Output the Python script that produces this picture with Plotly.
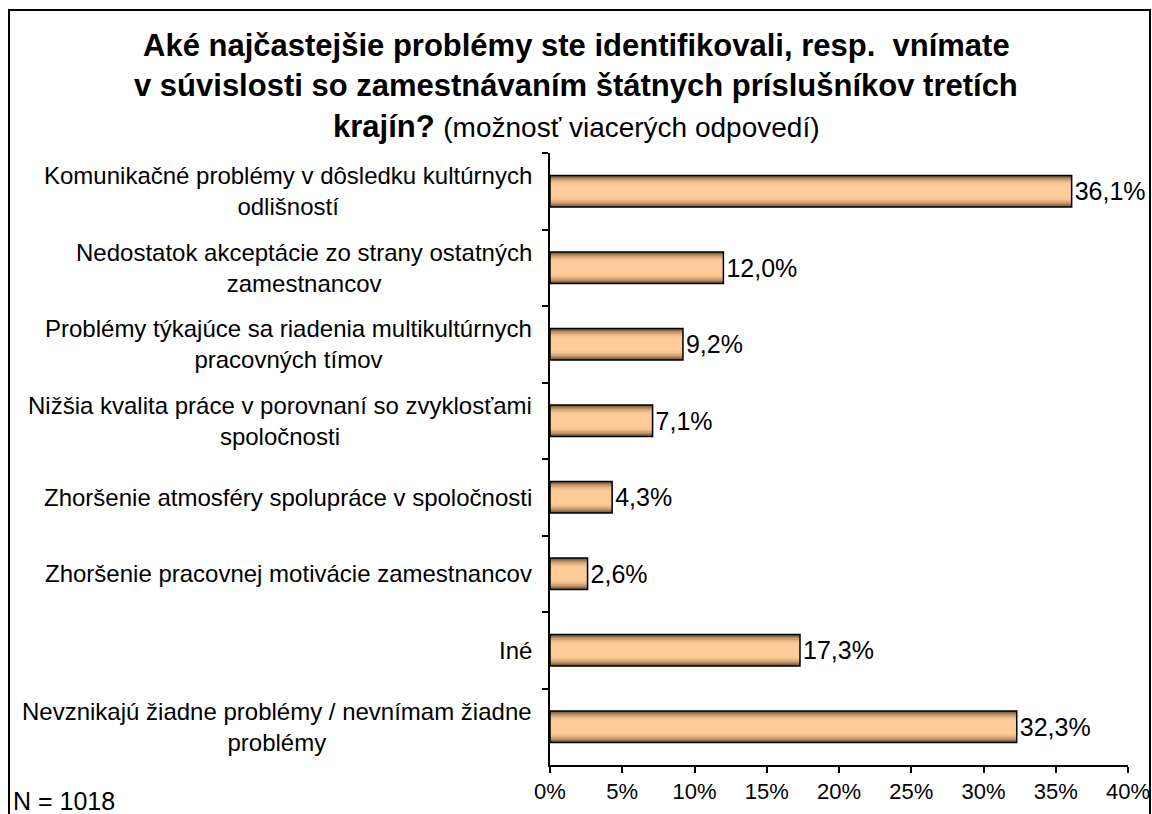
import plotly.graph_objects as go

categories = [
    "Komunikačné problémy v dôsledku kultúrnych<br>odlišností",
    "Nedostatok akceptácie zo strany ostatných<br>zamestnancov",
    "Problémy týkajúce sa riadenia multikultúrnych<br>pracovných tímov",
    "Nižšia kvalita práce v porovnaní so zvyklosťami<br>spoločnosti",
    "Zhoršenie atmosféry spolupráce v spoločnosti",
    "Zhoršenie pracovnej motivácie zamestnancov",
    "Iné",
    "Nevznikajú žiadne problémy / nevnímam žiadne<br>problémy",
]
values = [36.1, 12.0, 9.2, 7.1, 4.3, 2.6, 17.3, 32.3]
x_ticks = [0, 5, 10, 15, 20, 25, 30, 35, 40]
x_tick_labels = ["0%", "5%", "10%", "15%", "20%", "25%", "30%", "35%", "40%"]

FONT = "Liberation Sans, Arial, sans-serif"
W, H = 1152, 814
L, R, T, B = 550, 24, 153, 49
pw, ph = W - L - R, H - T - B

def px_x(p):
    return (p - L) / pw

def px_y(p):
    return (H - B - p) / ph

fig = go.Figure()

# gradient approximation: overlaid bars from dark (edges) to light (center)
bar_w = 0.41
layers = [
    (1.00, "#735539"),
    (0.93, "#92704f"),
    (0.85, "#b28a62"),
    (0.76, "#d0a475"),
    (0.66, "#e7b885"),
    (0.55, "#f7c692"),
    (0.42, "#ffcc99"),
]
for frac, col in layers:
    fig.add_trace(go.Bar(
        y=categories, x=values, orientation="h", width=bar_w * frac,
        marker=dict(color=col, line=dict(width=0)),
        hoverinfo="skip", showlegend=False,
    ))

labels = [f"{v:.1f}".replace(".", ",") + "%" for v in values]
fig.add_trace(go.Bar(
    y=categories, x=values, orientation="h", width=bar_w,
    marker=dict(color="rgba(0,0,0,0)", line=dict(color="black", width=1.5)),
    text=labels, textposition="outside",
    textfont=dict(family=FONT, size=25, color="black"),
    cliponaxis=False, showlegend=False,
))

fig.update_layout(
    width=W, height=H,
    margin=dict(l=L, r=R, t=T, b=B, autoexpand=False),
    paper_bgcolor="white", plot_bgcolor="white",
    barmode="overlay",
    font=dict(family=FONT, color="black"),
    xaxis=dict(
        range=[0, 40], tickvals=x_ticks, ticktext=x_tick_labels, automargin=False,
        showgrid=False, zeroline=False, showline=True, linecolor="black", linewidth=1.5,
        ticks="outside", ticklen=6, tickcolor="black", tickwidth=1.5,
        tickfont=dict(family=FONT, size=22, color="black"),
    ),
    yaxis=dict(
        autorange="reversed", type="category", automargin=False,
        showgrid=False, zeroline=False, showline=True, linecolor="black", linewidth=1.5,
        ticks="outside", ticklen=6, tickcolor="black", tickwidth=1.5,
        tickson="boundaries", showticklabels=False,
    ),
)

for c in categories:
    fig.add_annotation(
        x=0, xref="paper", xshift=-16, xanchor="right",
        y=c, yref="y", yanchor="middle",
        text=c, showarrow=False, align="center",
        font=dict(family=FONT, size=24, color="black"),
    )

title_lines = [
    (46, "<b>Aké najčastejšie problémy ste identifikovali, resp.  vnímate</b>"),
    (86, "<b>v súvislosti so zamestnávaním štátnych príslušníkov tretích</b>"),
    (127, "<b>krajín?</b> <span style='font-size:28px'>(možnosť viacerých odpovedí)</span>"),
]
for yp, txt in title_lines:
    fig.add_annotation(
        x=px_x(576), xref="paper", xanchor="center",
        y=px_y(yp), yref="paper", yanchor="middle",
        text=txt, showarrow=False,
        font=dict(family=FONT, size=31, color="black"),
    )

fig.add_annotation(
    x=px_x(11), xref="paper", xanchor="left",
    y=px_y(801), yref="paper", yanchor="middle",
    text="N = 1018", showarrow=False,
    font=dict(family=FONT, size=25, color="black"),
)

fig.add_shape(
    type="rect", xref="paper", yref="paper",
    x0=px_x(9), x1=px_x(1150), y0=px_y(830), y1=px_y(10),
    line=dict(color="black", width=2), fillcolor="rgba(0,0,0,0)",
)

fig.write_html(
    "out.html",
    config={"displayModeBar": False},
    post_script="document.body.style.margin='0';document.body.style.overflow='hidden';",
)
